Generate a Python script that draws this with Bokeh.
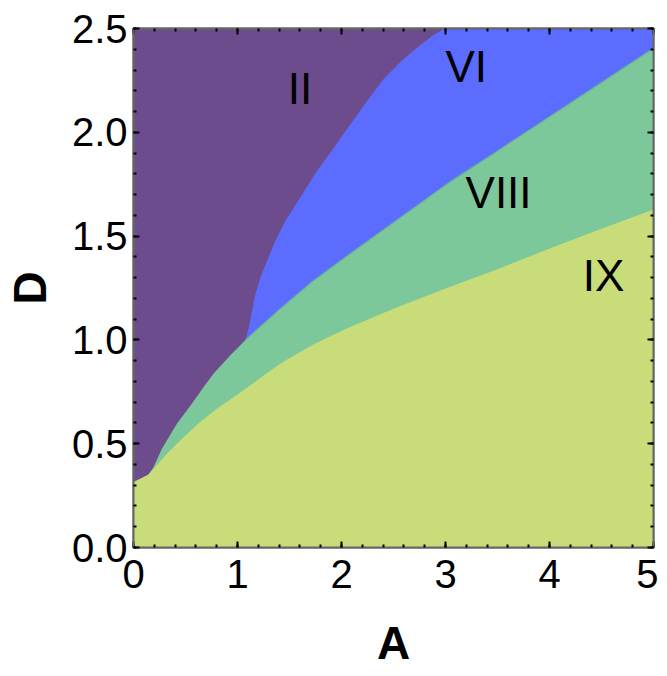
from bokeh.plotting import figure
from bokeh.models import Range1d, LinearAxis, Label, SingleIntervalTicker, NumeralTickFormatter
from bokeh.embed import file_html
from bokeh.resources import INLINE

# Upper boundary of region IX (yellow)
ix_A = [0.0, 0.144, 0.321, 0.481, 0.641, 0.801, 0.962, 1.122, 1.25, 1.436, 1.756,
        2.077, 2.5, 3.0, 3.5, 4.0, 4.5, 5.0]
ix_D = [0.315, 0.352, 0.451, 0.531, 0.604, 0.668, 0.724, 0.78, 0.829, 0.893, 0.985,
        1.061, 1.15, 1.247, 1.34, 1.44, 1.535, 1.628]

# Upper boundary of region VIII (green)
viii_A = [0.144, 0.192, 0.272, 0.417, 0.561, 0.673, 0.769, 0.929, 1.077, 1.4, 1.724,
          2.0, 2.5, 3.04, 3.5, 4.0, 4.5, 5.0]
viii_D = [0.352, 0.387, 0.475, 0.596, 0.692, 0.772, 0.837, 0.925, 1.0, 1.145, 1.283,
          1.385, 1.565, 1.76, 1.91, 2.075, 2.24, 2.405]

# Upper boundary of region VI (blue) against region II (purple)
vi_A = [1.077, 1.109, 1.141, 1.173, 1.221, 1.285, 1.365, 1.462, 1.596, 1.756, 1.917,
        2.077, 2.237, 2.397, 2.558, 2.686, 2.878, 2.99]
vi_D = [1.0, 1.061, 1.142, 1.222, 1.302, 1.382, 1.479, 1.575, 1.68, 1.808, 1.92,
        2.033, 2.145, 2.252, 2.335, 2.392, 2.466, 2.5]

region_names = ["II", "VI", "VIII", "IX"]
region_A = [1.6, 3.2, 3.51, 4.52]
region_D = [2.213, 2.315, 1.708, 1.31]

A_min, A_max = 0.0, 5.0
D_min, D_max = 0.0, 2.5
A_tick_step = 1.0
D_tick_step = 0.5

PURPLE = "#6C4C8C"
BLUE = "#5B6CFF"
GREEN = "#7DC89B"
YELLOW = "#C8DC7A"
FONT = "Liberation Sans"

p = figure(frame_width=520, frame_height=519, output_backend="svg", toolbar_location=None,
           x_range=Range1d(A_min, A_max), y_range=Range1d(D_min, D_max),
           min_border_left=126, min_border_right=5, min_border_top=28, min_border_bottom=5)
p.background_fill_color = PURPLE
p.border_fill_color = "white"
p.xgrid.visible = False
p.ygrid.visible = False
p.outline_line_color = "#666666"
p.outline_line_width = 2

# Region VI (blue): below purple boundary
p.patch(vi_A + [A_max, A_max, vi_A[0]], vi_D + [D_max, D_min, D_min],
        fill_color=BLUE, line_color=None)
# Region VIII (green)
p.patch(viii_A + [A_max, viii_A[0]], viii_D + [D_min, D_min],
        fill_color=GREEN, line_color=None)
# thin boundary line between VI and VIII
k = viii_A.index(1.077)
p.line(viii_A[k:], viii_D[k:], line_color="#66B09E", line_width=1.2)
# Region IX (yellow)
p.patch(ix_A + [A_max, A_min], ix_D + [D_min, D_min],
        fill_color=YELLOW, line_color=None)

for name, a, d in zip(region_names, region_A, region_D):
    p.add_layout(Label(x=a, y=d, text=name, text_font=FONT, text_font_size="44px",
                       text_align="center", text_baseline="middle", text_color="black"))

def style(ax, labels=True):
    ax.axis_line_color = "#666666"
    ax.axis_line_width = 2
    ax.major_tick_in = 6
    ax.major_tick_out = 0
    ax.minor_tick_in = 3
    ax.minor_tick_out = 0
    ax.major_tick_line_color = "black"
    ax.major_tick_line_width = 2
    ax.minor_tick_line_color = "black"
    ax.minor_tick_line_width = 2
    if labels:
        ax.major_label_text_font = FONT
        ax.major_label_text_font_size = "40px"
        ax.major_label_text_color = "black"
        ax.axis_label_text_font = FONT
        ax.axis_label_text_font_size = "46px"
        ax.axis_label_text_font_style = "bold"
        ax.axis_label_text_color = "black"
    else:
        ax.major_label_text_font_size = "0px"
        ax.major_label_text_color = None
        ax.major_label_standoff = 0
        ax.axis_label_standoff = 0

p.xaxis.ticker = SingleIntervalTicker(interval=A_tick_step, num_minor_ticks=5)
p.yaxis.ticker = SingleIntervalTicker(interval=D_tick_step, num_minor_ticks=5)
p.xaxis.formatter = NumeralTickFormatter(format="0")
p.yaxis.formatter = NumeralTickFormatter(format="0.0")
p.xaxis.axis_label = "A"
p.yaxis.axis_label = "D"
style(p.xaxis[0])
style(p.yaxis[0])
p.xaxis.major_label_standoff = 12
p.yaxis.major_label_standoff = 6
p.xaxis.axis_label_standoff = 26
p.yaxis.axis_label_standoff = 13

top = LinearAxis(ticker=SingleIntervalTicker(interval=A_tick_step, num_minor_ticks=5))
right = LinearAxis(ticker=SingleIntervalTicker(interval=D_tick_step, num_minor_ticks=5))
style(top, labels=False)
style(right, labels=False)
p.add_layout(top, "above")
p.add_layout(right, "right")

open("out.html", "w").write(file_html(p, INLINE))
